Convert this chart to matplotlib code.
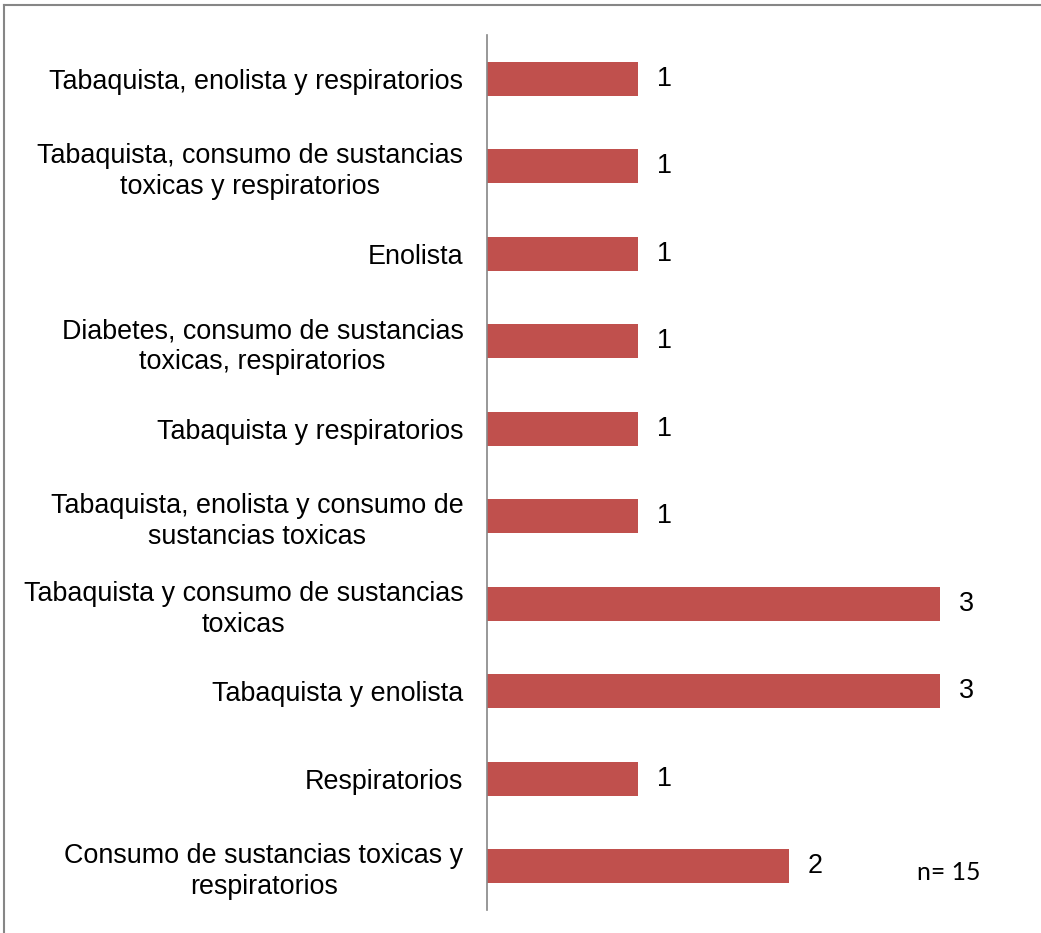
import matplotlib
matplotlib.use("Agg")
import matplotlib.pyplot as plt
from matplotlib.lines import Line2D

# categories listed top to bottom
categories = [
    "Tabaquista, enolista y respiratorios",
    "Tabaquista, consumo de sustancias\ntoxicas y respiratorios",
    "Enolista",
    "Diabetes, consumo de sustancias\ntoxicas, respiratorios",
    "Tabaquista y respiratorios",
    "Tabaquista, enolista y consumo de\nsustancias toxicas",
    "Tabaquista y consumo de sustancias\ntoxicas",
    "Tabaquista y enolista",
    "Respiratorios",
    "Consumo de sustancias toxicas y\nrespiratorios",
]
counts = [1, 1, 1, 1, 1, 1, 3, 3, 1, 2]
total_label = "n= 15"

BAR = "#C0504D"
GREY = "#868686"
W, H = 1041, 933

fig = plt.figure(figsize=(W / 100, H / 100), dpi=100)
ax = fig.add_axes([487 / W, 23 / H, (W - 487) / W, 875 / H])

ypos = list(range(len(categories)))
ax.barh(ypos, counts, height=0.39, color=BAR, edgecolor="none")
ax.set_ylim(len(categories) - 0.5, -0.5)
ax.set_xlim(0, (W - 487) / 151)

for y, v in zip(ypos, counts):
    ax.annotate(str(v), (v, y), xytext=(13.5, 0), textcoords="offset points",
                ha="left", va="center", fontsize=19.4,
                family="Liberation Sans", color="black")

ax.set_yticks(ypos)
ax.set_yticklabels(categories, fontsize=19.4, family="Liberation Sans",
                   multialignment="center", linespacing=1.26)
ax.tick_params(axis="y", length=0, pad=17)
ax.set_xticks([])
for side in ("top", "right", "bottom"):
    ax.spines[side].set_visible(False)
ax.spines["left"].set_color(GREY)
ax.spines["left"].set_linewidth(1.2)

fig.text(917 / W, 1 - 872 / H, total_label, fontsize=17.8, family="Lato",
         ha="left", va="center")

# outer chart frame (only top and left edges fall inside the image)
fig.add_artist(Line2D([4 / W, 1], [1 - 5 / H, 1 - 5 / H], color=GREY, lw=1.5))
fig.add_artist(Line2D([4 / W, 4 / W], [1 - 5 / H, 0], color=GREY, lw=1.5))

fig.savefig("out.png", dpi=100)
